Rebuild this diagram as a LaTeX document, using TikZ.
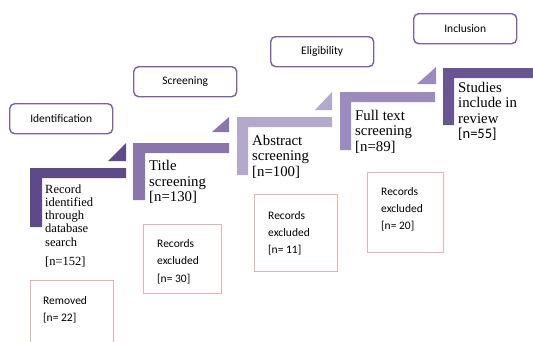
\documentclass[tikz,border=0pt]{standalone}
\usepackage{fontspec}
\setmainfont{Liberation Serif}
\newfontfamily\calib{Carlito}
\definecolor{stepA}{HTML}{5E4A87}
\definecolor{stepB}{HTML}{8A75AD}
\definecolor{stepC}{HTML}{B4A8CD}
\definecolor{stepD}{HTML}{9C8BBF}
\definecolor{stepE}{HTML}{6A5593}
\definecolor{labborder}{HTML}{7D5FA8}
\definecolor{pinkborder}{HTML}{E6B3B3}
\tikzset{
  labbox/.style={draw=labborder, line width=1.4pt, rounded corners=5pt, fill=white,
    minimum width=103pt, minimum height=30pt, inner sep=0pt, anchor=north west,
    font=\calib\fontsize{11.5}{13}\selectfont},
  pinkbox/.style={draw=pinkborder, line width=1.2pt, fill=white, inner sep=0pt, anchor=north west},
  pinktext/.style={anchor=base west, align=left, inner sep=0pt,
    font=\calib\fontsize{11.5}{17.3}\selectfont},
  steptext/.style={anchor=base west, align=left, inner sep=0pt,
    font=\fontsize{14.8}{15.5}\selectfont},
}
\begin{document}
\begin{tikzpicture}[x=1pt,y=-1pt]
\useasboundingbox (0,0) rectangle (533,341);
% step shapes
\fill[stepA] (30,168) -- (126,168) -- (126,178) -- (42,178) -- (42,227) -- (30,227) -- cycle;
\fill[stepA] (108,161) -- (126,161) -- (126,143) -- cycle;
\fill[stepB] (133,143) -- (229,143) -- (229,153) -- (145,153) -- (145,200) -- (133,200) -- cycle;
\fill[stepB] (212,132) -- (229,132) -- (229,117) -- cycle;
\fill[stepC] (237,117) -- (332,117) -- (332,127) -- (248,127) -- (248,175) -- (237,175) -- cycle;
\fill[stepC] (315,110) -- (332,110) -- (332,92) -- cycle;
\fill[stepD] (340,92) -- (435,92) -- (435,102) -- (351,102) -- (351,150) -- (340,150) -- cycle;
\fill[stepD] (417,84) -- (436,84) -- (436,67) -- cycle;
\fill[stepE] (443,68) -- (540,68) -- (540,78) -- (454,78) -- (454,125) -- (443,125) -- cycle;
% step texts (anchor = baseline of last line)
\node[steptext, font=\fontsize{12.5}{13.3}\selectfont] (t1) at (45,265)
  {Record\\identified\\through\\database\\search\\[5.5pt][n=152]};
\node[steptext] (t2) at (149,201.5) {Title\\screening\\{}[n=130]};
\node[steptext] (t3) at (252,176) {Abstract\\screening\\{}[n=100]};
\node[steptext] (t4) at (355,151) {Full text\\screening\\{}[n=89]};
\node[steptext] (t5) at (458,138.5) {Studies\\include in\\review\\{\calib\fontsize{14.5}{15}\selectfont [n=55]}};
% phase labels
\node[labbox] (l1) at (9,103) {Identification};
\node[labbox] (l2) at (133,66) {Screening};
\node[labbox] (l3) at (270,36) {Eligibility};
\node[labbox] (l4) at (413,13) {Inclusion};
% excluded boxes
\node[pinkbox, minimum width=83pt, minimum height=75pt] (b1) at (30,280) {};
\node[pinktext] (e1) at (43,321.3) {Removed\\{}[n= 22]};
\node[pinkbox, minimum width=78pt, minimum height=69pt] (b2) at (143,224) {};
\node[pinktext] (e2) at (157,282) {Records\\excluded\\{}[n= 30]};
\node[pinkbox, minimum width=83pt, minimum height=77pt] (b3) at (254,194) {};
\node[pinktext] (e3) at (268,253.6) {Records\\excluded\\{}[n= 11]};
\node[pinkbox, minimum width=76pt, minimum height=80pt] (b4) at (367,172) {};
\node[pinktext] (e4) at (381,229.6) {Records\\excluded\\{}[n= 20]};
\end{tikzpicture}
\end{document}
